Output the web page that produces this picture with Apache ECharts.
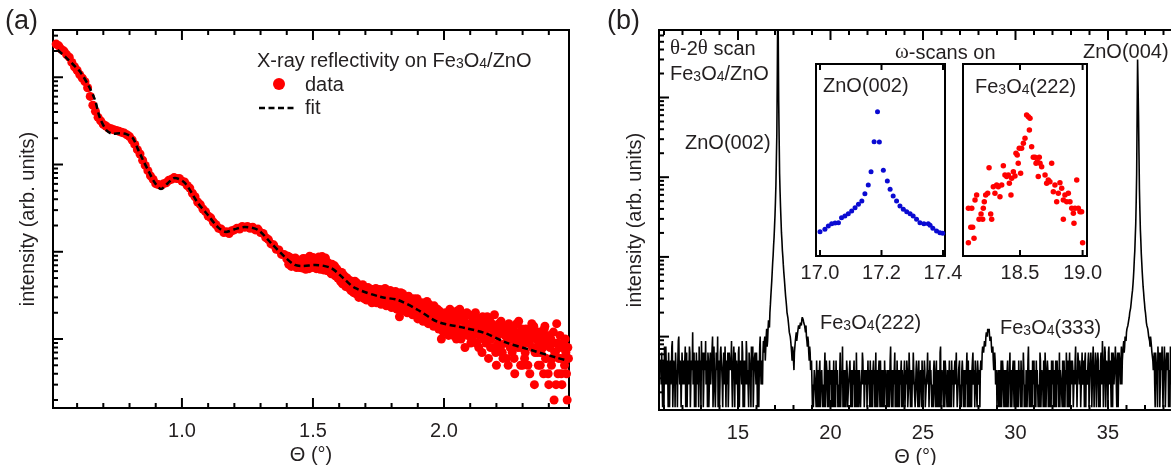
<!DOCTYPE html>
<html>
<head>
<meta charset="utf-8">
<script src="https://cdn.jsdelivr.net/npm/echarts@6/dist/echarts.min.js"></script>
<style>html,body{margin:0;padding:0;background:#fff}#c{width:1171px;height:465px}</style>
</head>
<body>
<div id="c"></div>
<script>
// ---------- (a) X-ray reflectivity ----------
const xrrLowStart = 0.52, xrrLowStep = 0.01;
const xrrLow = [2399,2291,2089,1995,1820,1698,1479,1318,1202,1072,977,891,759,603,479,407,347,316,288,276,
262,257,250,245,240,234,229,219,209,191,170,148,132,112,97.7,85.1,74.1,67.6,60.3,58.9,
57.5,60.3,61.7,66.1,67.6,70.8,69.2,69.2,64.6,63.1,57.5,53.7,46.8,42.7,37.2,34.7,30.9,28.8,25.7,24.5,
21.9,20.4,18.6,18.2,16.6,17.0,16.2,17.4,17.8,18.6,18.2,19.5,19.1,19.5,18.6,19.1,17.8,18.2,16.6,16.2,
14.5,13.8,12.3,12.0,10.7,10.5,9.33,9.33,8.32];
const xrrHighStart = 1.405, xrrHighStep = 0.005;
const xrrHigh = [8.9,7.6,8.4,7.3,8.1,6.9,7.8,7.0,7.6,6.6,
7.9,6.5,7.4,8.3,6.8,7.7,6.4,8.1,7.2,8.6,
6.7,7.5,8.4,6.5,7.9,6.9,8.8,6.2,7.3,6.6,
7.6,6.0,7.0,5.6,6.8,6.1,5.3,6.4,5.0,5.9,
4.6,5.8,4.5,5.2,4.0,5.0,3.9,4.7,3.6,4.4,
3.4,4.6,3.3,4.1,3.0,3.9,3.2,4.2,2.9,3.6,
2.8,3.9,3.1,3.7,2.6,3.4,2.9,3.8,2.7,3.3,
3.7,2.5,3.2,2.8,3.8,2.4,3.3,2.7,3.6,2.3,
3.1,2.6,3.5,2.2,2.9,1.8,3.4,2.4,3.0,2.1,
2.8,2.0,3.1,2.3,2.6,1.9,2.9,2.1,2.5,1.7,
2.4,1.8,2.6,1.6,2.2,1.9,2.7,1.5,2.1,1.7,
2.3,1.4,1.9,1.6,2.2,1.3,1.8,1.0,1.7,1.4,
2.0,1.3,1.6,1.2,1.9,1.5,1.1,1.7,1.3,2.1,
1.2,2.2,1.0,1.8,1.3,0.8,1.5,1.1,1.9,1.4,
1.0,1.6,1.2,2.0,0.9,1.4,1.1,1.7,0.7,1.3,
1.5,0.9,1.8,0.6,1.6,1.0,1.3,0.8,1.4,0.5,
1.1,1.5,0.8,1.2,0.6,1.3,0.9,1.4,0.5,1.0,
1.2,0.7,1.3,0.4,0.9,1.1,1.6,1.2,0.8,0.5,
1.1,0.7,1.2,0.5,0.9,1.0,1.5,1.1,0.3,0.8,
1.0,0.5,0.9,0.7,1.1,0.4,1.4,0.6,1.0,0.3,
0.8,0.5,0.9,0.2,0.7,1.5,0.4,0.8,0.6,0.3,
0.9,0.5,0.7,0.2,0.6];
const xrrHighBStart = 1.4075, xrrHighBStep = 0.005;
const xrrHighB = [7.2,8.6,6.8,8.0,7.1,8.5,6.6,7.9,6.9,7.7,
6.9,8.4,7.0,6.3,8.2,7.1,8.9,6.6,7.8,6.7,
8.1,6.4,7.2,8.7,6.3,8.0,6.8,7.7,8.5,6.1,
6.5,7.3,5.8,7.2,6.0,6.9,5.7,6.2,5.4,5.1,
5.5,4.3,5.4,4.2,4.9,4.5,4.4,3.8,4.6,3.8,
4.3,3.7,4.4,3.5,4.0,3.3,3.8,3.5,3.4,3.0,
3.6,3.0,3.5,2.9,3.7,3.1,3.3,2.6,3.5,3.0,
2.9,3.5,2.6,3.6,2.9,3.4,2.6,3.5,2.8,3.2,
2.4,3.3,2.8,3.2,2.5,3.1,2.2,3.3,2.6,2.9,
2.4,3.0,2.2,2.8,2.0,2.7,2.4,2.2,2.9,2.3,
2.0,2.5,2.1,2.4,1.7,2.3,1.8,2.5,1.6,2.2,
1.8,2.4,1.5,2.0,1.7,2.1,1.4,1.9,1.2,1.8,
1.5,1.8,1.1,2.2,1.4,1.7,1.3,1.9,1.0,1.6,
1.7,1.3,1.9,1.1,1.6,1.4,2.0,1.2,1.5,0.9,
1.4,1.1,1.9,1.3,1.5,0.8,1.6,1.2,1.8,1.0,
1.2,1.7,1.0,1.4,0.8,1.5,1.1,1.9,0.7,1.3,
0.9,1.3,1.6,0.7,1.4,1.1,0.6,1.2,1.5,0.8,
1.0,1.4,0.6,1.1,1.5,0.8,1.0,0.5,1.3,0.9,
0.6,1.3,0.9,1.0,0.4,1.2,0.8,1.4,0.7,1.0,
0.7,1.2,0.5,1.0,0.8,1.3,0.6,0.9,0.4,1.1,
1.0,0.6,1.2,0.7,0.3,0.9,0.6,1.1,0.4,0.8,
0.6,1.0,0.4,0.8,0.5];
const fitTheta = [0.526,0.560,0.585,0.611,0.642,0.668,0.687,0.713,0.737,0.764,0.790,0.813,0.832,0.850,0.870,0.897,0.920,0.947,0.973,1.011,
1.061,1.099,1.137,1.168,1.206,1.240,1.290,1.340,1.393,1.431,1.462,1.508,1.569,1.615,1.660,1.760,1.824,1.901,1.977,2.080,
2.156,2.233,2.332,2.435,2.470];
const fitIntensity = [2061,1656,1400,1161,818,551,342,245,225,228,222,200,150,115,87,61.5,52.5,61.5,70.2,61.5,
36.3,26.4,19.2,16.9,18.3,19.2,17.8,12.6,8.7,7.06,6.87,7.06,6.52,5.01,3.85,3.03,2.80,2.15,1.57,1.34,
1.17,0.92,0.748,0.605,0.57];
const aTickMajorX = [1.0, 1.5, 2.0];
const aTickMinorX = [0.6,0.7,0.8,0.9,1.1,1.2,1.3,1.4,1.6,1.7,1.8,1.9,2.1,2.2,2.3,2.4];
const aTickMajorY = [1, 10, 100, 1000];
const aTickMinorY = [0.2,0.3,0.4,0.5,0.6,0.7,0.8,0.9,2,3,4,5,6,7,8,9,20,30,40,50,60,70,80,90,200,300,400,500,600,700,800,900,2000,3000];
const aLabelsX = [1.0, 1.5, 2.0];

// ---------- (b) theta-2theta scan: points at 10.800 + i*0.05 ----------
const xrdStart = 10.80, xrdStep = 0.05;
const xrdNoiseLow = [5,2.5,6.3,3.8,1.3,5,7.5,2.5,3.8,6.3,
1.3,5,3.8,8.8,2.5,5,1.3,6.3,3.8,5,
10,2.5,3.8,1.3,6.3,5,2.5,7.5,3.8,1.3,
5,3.8,6.3,2.5,5,11.3,3.8,1.3,5,6.3,
2.5,3.8,7.5,5,1.3,3.8,6.3,2.5,5,8.8,
3.8,1.3,5,2.5,6.3,3.8,5,1.3,7.5,3.8,
2.5,5,10,3.8,1.3,6.3,5,2.5,3.8,5,
7.5,1.3,3.8,6.3,2.5,5,3.8,8.8,1.3,5,
3.8,6.3,2.5,5,1.3,7.5,3.8,5,2.5,6.3,
3.8,1.3,5,8.8,2.5,3.8,6.3,5,1.3,3.8,
7.5,2.5,5,3.8,6.3,1.3,5,3.8,10,2.5,
5,6.3];
const zno002Peak = [6.3,10,5,12.5,8.8,16,13,25,40,65,105,175,330,800,3500,150000,9000,1100,420,200,
120,80,55,38,28,20,17,13,11.3,8.8,6.3,7.5,5,6.3];
const fe222Peak = [8.8,11.3,10,12.5,13.8,12.5,15,16.3,17.5,15,13.8,11.3,10,7.5,8.8,5,6.3,3.8,2.5];
const xrdNoiseMid = [2.5,1.3,3.8,2.5,5,1.3,2.5,3.8,1.3,2.5,
3.8,2.5,1.3,6.3,2.5,3.8,1.3,2.5,5,2.5,
1.3,3.8,2.5,1.3,3.8,5,2.5,1.3,2.5,3.8,
1.3,2.5,7.5,2.5,1.3,3.8,2.5,3.8,1.3,2.5,
5,1.3,2.5,3.8,2.5,1.3,3.8,6.3,1.3,2.5,
3.8,2.5,1.3,2.5,5,3.8,1.3,2.5,3.8,1.3,
2.5,3.8,5,1.3,2.5,3.8,2.5,1.3,6.3,2.5,
1.3,3.8,2.5,5,1.3,2.5,3.8,1.3,2.5,3.8,
2.5,1.3,3.8,2.5,7.5,1.3,2.5,3.8,2.5,1.3,
3.8,5,1.3,2.5,3.8,2.5,1.3,3.8,2.5,5,
1.3,2.5,3.8,1.3,6.3,2.5,3.8,1.3,2.5,3.8,
2.5,1.3,5,2.5,3.8,1.3,2.5,3.8,5,1.3,
2.5,3.8,1.3,2.5,6.3,3.8,1.3,2.5,3.8,2.5,
1.3,5,2.5,3.8,1.3,2.5,3.8,1.3,7.5,2.5,
3.8,1.3,2.5,5,2.5,1.3,3.8,2.5,1.3,3.8,
5,2.5,1.3,3.8,2.5,6.3,1.3,2.5,3.8,1.3,
2.5,3.8,5,1.3,2.5,3.8,2.5,1.3,5,3.8,
1.3,2.5,3.8,6.3,2.5,1.3,3.8,2.5,5,2.5,
3.8];
const fe333Peak = [3.8,5,6.3,7.5,6.3,8.8,10,11.3,12.5,11.3,10,8.8,7.5,6.3,5,3.8,5,2.5,1.3];
const xrdNoiseHigh = [2.5,1.3,3.8,2.5,1.3,5,2.5,3.8,1.3,2.5,
3.8,1.3,2.5,6.3,2.5,1.3,3.8,2.5,5,1.3,
2.5,3.8,1.3,2.5,3.8,5,1.3,2.5,3.8,2.5,
1.3,3.8,2.5,7.5,1.3,2.5,3.8,1.3,2.5,5,
3.8,1.3,2.5,3.8,2.5,1.3,5,2.5,3.8,1.3,
2.5,6.3,1.3,2.5,3.8,2.5,1.3,3.8,5,2.5,
1.3,3.8,2.5,1.3,5,3.8,2.5,1.3,3.8,2.5,
5,1.3,2.5,3.8,6.3,1.3,2.5,3.8,1.3,5,
2.5,3.8,1.3,2.5,7.5,3.8,1.3,5,2.5,3.8,
1.3,6.3,2.5,3.8,5,1.3,3.8,2.5,6.3,1.3,
5,3.8,2.5,7.5,1.3,3.8,5,2.5,6.3,1.3,
3.8,5,2.5,8.8,1.3,3.8,6.3,2.5,5,1.3,
7.5,3.8,2.5,6.3,1.3,5,3.8,7.5,2.5,5,
1.3,6.3,3.8,5,2.5];
const zno004Peak = [6.3,8.8,7.5,10,11.3,12.5,15,17.5,21,26,34,45,70,120,260,1100,30000,6000,700,220,
110,65,42,30,22,17.5,13.8,12.5,10,8.8,10,7.5,6.3];
const xrdNoiseEnd = [3.8,6.3,1.3,5,2.5,7.5,3.8,1.3,6.3,5,2.5,3.8,7.5,1.3,5,3.8,6.3,2.5,1.3,5,3.8,6.3];

// ---------- (b) theta-2theta scan: points at 10.825 + i*0.05 ----------
const xrdStartB = 10.825;
const xrdNoiseLowB = [3.8,6.3,1.3,5,7.5,2.5,3.8,5,1.3,6.3,
3.8,2.5,7.5,1.3,5,3.8,6.3,2.5,1.3,8.8,
3.8,5,1.3,6.3,2.5,3.8,5,1.3,6.3,3.8,
2.5,7.5,1.3,5,3.8,2.5,6.3,5,1.3,3.8,
5,1.3,3.8,2.5,8.8,5,1.3,6.3,3.8,2.5,
5,6.3,1.3,3.8,2.5,5,10,2.5,3.8,1.3,
6.3,3.8,1.3,5,2.5,7.5,3.8,1.3,6.3,2.5,
3.8,5,2.5,1.3,6.3,3.8,5,2.5,3.8,7.5,
1.3,3.8,5,2.5,6.3,1.3,5,3.8,8.8,1.3,
5,3.8,2.5,6.3,3.8,1.3,5,2.5,7.5,3.8,
1.3,5,6.3,2.5,3.8,5,1.3,7.5,3.8,5,
2.5,8.8];
const zno002PeakB = [8.8,5,10,7.5,12.5,16,20,32,50,85,140,240,500,1700,20000,60000,3000,650,290,160,
100,65,46,32,24,19,15,11.3,10,7.5,5,6.3,3.8,7.5];
const fe222PeakB = [10,8.8,11.3,13.8,12.5,15,13.8,17.5,16.3,15,12.5,13.8,8.8,10,6.3,7.5,3.8,5,1.3];
const xrdNoiseMidB = [1.3,3.8,2.5,1.3,2.5,3.8,1.3,5,2.5,3.8,
1.3,2.5,3.8,1.3,5,2.5,3.8,1.3,2.5,3.8,
2.5,1.3,5,2.5,1.3,2.5,3.8,2.5,1.3,6.3,
2.5,3.8,1.3,3.8,2.5,1.3,5,1.3,2.5,3.8,
2.5,3.8,1.3,2.5,5,3.8,1.3,2.5,3.8,1.3,
2.5,1.3,3.8,6.3,2.5,1.3,3.8,2.5,1.3,5,
3.8,1.3,2.5,3.8,1.3,5,3.8,2.5,1.3,3.8,
2.5,5,1.3,2.5,3.8,1.3,2.5,5,3.8,1.3,
3.8,2.5,1.3,5,2.5,3.8,1.3,2.5,6.3,2.5,
1.3,2.5,3.8,1.3,2.5,5,3.8,1.3,2.5,1.3,
3.8,5,1.3,2.5,3.8,1.3,2.5,3.8,6.3,2.5,
1.3,3.8,2.5,1.3,5,2.5,3.8,1.3,2.5,3.8,
5,1.3,2.5,3.8,2.5,1.3,5,3.8,1.3,2.5,
3.8,2.5,1.3,5,3.8,1.3,2.5,6.3,1.3,3.8,
2.5,5,1.3,3.8,2.5,3.8,1.3,5,2.5,1.3,
2.5,3.8,1.3,5,3.8,2.5,1.3,3.8,5,2.5,
1.3,5,2.5,3.8,1.3,2.5,6.3,3.8,1.3,2.5,
3.8,1.3,5,2.5,3.8,5,2.5,1.3,3.8,2.5,
1.3];
const fe333PeakB = [5,3.8,7.5,6.3,8.8,7.5,11.3,10,12.5,12.5,8.8,10,6.3,7.5,3.8,6.3,2.5,3.8,2.5];
const xrdNoiseHighB = [3.8,2.5,1.3,5,2.5,3.8,1.3,2.5,3.8,1.3,
5,2.5,3.8,1.3,3.8,2.5,5,1.3,2.5,3.8,
1.3,2.5,5,3.8,1.3,2.5,3.8,6.3,1.3,2.5,
3.8,1.3,5,2.5,3.8,1.3,2.5,5,3.8,1.3,
2.5,5,3.8,1.3,2.5,6.3,1.3,3.8,2.5,5,
1.3,3.8,2.5,5,1.3,3.8,2.5,1.3,3.8,5,
2.5,1.3,5,3.8,2.5,1.3,6.3,3.8,2.5,1.3,
3.8,5,1.3,2.5,3.8,5,1.3,6.3,2.5,3.8,
5,1.3,3.8,5,2.5,1.3,6.3,3.8,5,1.3,
3.8,2.5,5,1.3,6.3,3.8,2.5,5,1.3,3.8,
6.3,1.3,5,3.8,2.5,6.3,1.3,3.8,5,2.5,
1.3,6.3,3.8,5,2.5,7.5,1.3,5,3.8,6.3,
2.5,5,1.3,3.8,6.3,2.5,5,3.8,1.3,6.3,
3.8,5,2.5,7.5,5];
const zno004PeakB = [7.5,6.3,10,8.8,12.5,13.8,16.3,20,23,30,38,55,95,180,500,6000,14000,2000,380,160,
85,52,36,26,20,15,13.8,11.3,10,7.5,8.8,6.3,5];
const xrdNoiseEndB = [5,2.5,6.3,3.8,1.3,5,6.3,2.5,3.8,7.5,1.3,5,3.8,2.5,6.3,5,1.3,3.8,7.5,2.5,5];

const bTickMajorX = [15, 20, 25, 30, 35];
const bTickMinorX = [11,12,13,14,16,17,18,19,21,22,23,24,26,27,28,29,31,32,33,34,36,37,38];
const bTickMajorY = [10, 100, 1000, 10000];
const bTickMinorY = [2,3,4,5,6,7,8,9,20,30,40,50,60,70,80,90,200,300,400,500,600,700,800,900,
2000,3000,4000,5000,6000,7000,8000,9000,20000,30000,40000,50000,60000];
const bLabelsX = [15, 20, 25, 30, 35];

// ---------- insets: omega scans ----------
const znoOmegaTheta = [17.000,17.016,17.027,17.038,17.049,17.060,17.070,17.081,17.092,17.103,17.114,17.125,17.136,17.146,17.157,17.166,17.176,17.187,17.193,
17.206,17.219,17.228,17.238,17.249,17.260,17.271,17.282,17.293,17.303,17.314,17.325,17.338,17.352,17.358,17.367,17.379,17.390,17.399];
const znoOmegaInt = [2.40,2.61,2.94,3.20,3.28,3.31,3.97,4.22,4.58,5.05,5.69,6.42,7.23,9.41,12.9,20.8,61.1,180,60.4,
21.8,14.9,11.0,8.66,7.23,6.04,5.36,4.92,4.58,4.22,3.74,3.31,3.20,3.20,3.02,2.71,2.46,2.31,2.26];
const feOmegaTheta = [18.088,18.088,18.107,18.115,18.122,18.133,18.141,18.154,18.173,18.189,18.202,18.207,18.215,18.226,18.242,18.253,18.266,18.274,18.287,18.300,
18.314,18.327,18.340,18.354,18.367,18.380,18.394,18.407,18.415,18.428,18.434,18.447,18.460,18.468,18.478,18.486,18.494,18.505,18.513,18.527,
18.540,18.553,18.567,18.575,18.580,18.593,18.606,18.620,18.628,18.638,18.646,18.654,18.660,18.673,18.700,18.713,18.726,18.739,18.753,18.766,
18.779,18.793,18.806,18.819,18.833,18.846,18.846,18.859,18.873,18.886,18.899,18.913,18.926,18.931,18.939,18.953,18.966,18.979,18.992,19.000];
const feOmegaInt = [1.61,5.56,2.81,5.56,2.81,1.89,7.50,8.97,3.74,4.53,3.74,5.56,7.06,8.97,9.53,24.0,4.53,3.74,12.1,9.53,
12.9,12.1,8.45,12.9,25.8,18.4,17.4,18.4,13.7,8.97,16.4,20.8,17.8,40.2,37.8,28.1,48.2,19.6,48.2,57.7,
69.0,160,150,93,142,51,34.8,34.8,28.1,29.8,17.4,34.8,28.1,24.9,18.4,13.7,15.4,14.5,28.1,10.1,
12.9,7.06,9.53,14.0,11.4,7.50,3.74,8.97,7.06,9.53,7.06,5.56,4.64,3.24,5.56,15.4,5.56,4.93,4.93,1.61];
const in1LabelsX = [17.0, 17.2, 17.4];
const in2LabelsX = [18.5, 19.0];

// ---------- build ----------
const FONT = '"Liberation Sans", Arial, Helvetica, sans-serif';
const SERIF = '"Liberation Serif", "Times New Roman", serif';
const TXT = '#231f20';
const FS = 20;

const xrrData = xrrLow.map((v, i) => [+(xrrLowStart + i * xrrLowStep).toFixed(4), v])
  .concat(xrrHigh.map((v, i) => [+(xrrHighStart + i * xrrHighStep).toFixed(4), v]))
  .concat(xrrHighB.map((v, i) => [+(xrrHighBStart + i * xrrHighBStep).toFixed(4), v]));
const fitData = fitTheta.map((t, i) => [t, fitIntensity[i]]);
const xrdA = [].concat(xrdNoiseLow, zno002Peak, fe222Peak, xrdNoiseMid, fe333Peak, xrdNoiseHigh, zno004Peak, xrdNoiseEnd);
const xrdB = [].concat(xrdNoiseLowB, zno002PeakB, fe222PeakB, xrdNoiseMidB, fe333PeakB, xrdNoiseHighB, zno004PeakB, xrdNoiseEndB);
const xrdData = [];
xrdA.forEach((v, i) => {
  xrdData.push([+(xrdStart + i * xrdStep).toFixed(3), v]);
  if (i < xrdB.length) xrdData.push([+(xrdStartB + i * xrdStep).toFixed(3), xrdB[i]]);
});
const znoOmega = znoOmegaTheta.map((t, i) => [t, znoOmegaInt[i]]);
const feOmega = feOmegaTheta.map((t, i) => [t, feOmegaInt[i]]);

const AX = {
  a: {xmin: 0.508, xmax: 2.477, ymin: 0.162, ymax: 3480},
  b: {xmin: 10.73, xmax: 38.46, ymin: 1.2, ymax: 70300},
  i1: {xmin: 16.987, xmax: 17.4065, ymin: 1, ymax: 1000},
  i2: {xmin: 18.045, xmax: 19.035, ymin: 1, ymax: 1000}
};

function xTickRender(params, api) {
  const cs = params.coordSys;
  const p = api.coord([api.value(0), api.value(1)]);
  const len = api.value(2);
  const st = {stroke: '#000', lineWidth: 2};
  const bottom = cs.y + cs.height;
  return {type: 'group', children: [
    {type: 'line', shape: {x1: p[0], y1: bottom, x2: p[0], y2: bottom - len}, style: st},
    {type: 'line', shape: {x1: p[0], y1: cs.y, x2: p[0], y2: cs.y + len}, style: st}
  ]};
}
function yTickRender(params, api) {
  const cs = params.coordSys;
  const p = api.coord([api.value(0), api.value(1)]);
  const len = api.value(2);
  return {type: 'line', shape: {x1: cs.x, y1: p[1], x2: cs.x + len, y2: p[1]}, style: {stroke: '#000', lineWidth: 2}};
}
function tickSeries(idx, kind, values, refOther, len) {
  return {
    type: 'custom', coordinateSystem: 'cartesian2d', xAxisIndex: idx, yAxisIndex: idx,
    renderItem: kind === 'x' ? xTickRender : yTickRender,
    data: values.map(v => kind === 'x' ? [v, refOther, len] : [refOther, v, len]),
    encode: {x: 0, y: 1}, silent: true, z: 6, animation: false
  };
}

function xAxisOf(idx, r, labels, fmt, margin, name) {
  const o = {
    type: 'value', gridIndex: idx, min: r.xmin, max: r.xmax,
    axisLine: {show: false}, axisTick: {show: false}, splitLine: {show: false},
    axisLabel: {customValues: labels, formatter: fmt, fontSize: FS, color: TXT, fontFamily: FONT, margin: margin}
  };
  if (name) {
    o.name = name; o.nameLocation = 'middle'; o.nameGap = 31;
    o.nameTextStyle = {fontSize: FS, color: TXT, fontFamily: FONT};
  }
  return o;
}
function yAxisOf(idx, r, name, gap) {
  const o = {
    type: 'log', logBase: 10, gridIndex: idx, min: r.ymin, max: r.ymax,
    axisLine: {show: false}, axisTick: {show: false}, splitLine: {show: false}, axisLabel: {show: false}
  };
  if (name) {
    o.name = name; o.nameLocation = 'middle'; o.nameGap = gap;
    o.nameTextStyle = {fontSize: FS, color: TXT, fontFamily: FONT};
  }
  return o;
}

const richBase = {
  n: {fontSize: FS, fontFamily: FONT, fill: TXT, lineHeight: 22, verticalAlign: 'bottom'},
  s: {fontSize: 14, fontFamily: FONT, fill: TXT, lineHeight: 6, verticalAlign: 'bottom'},
  g: {fontSize: FS + 1, fontFamily: SERIF, fill: TXT, lineHeight: 22, verticalAlign: 'bottom'}
};
function feox(suffix) { return '{n|Fe}{s|3}{n|O}{s|4}{n|' + suffix + '}'; }
function txt(x, y, text, opts) {
  opts = opts || {};
  return {type: 'text', x: x, y: y, z: 20, silent: true,
    style: Object.assign({text: text, fontSize: FS, fontFamily: FONT, fill: TXT, align: 'left', verticalAlign: 'middle', rich: richBase}, opts)};
}

const chart = echarts.init(document.getElementById('c'), null, {renderer: 'canvas'});
chart.setOption({
  animation: false,
  backgroundColor: '#fff',
  textStyle: {fontFamily: FONT},
  grid: [
    {left: 53, top: 30, width: 516, height: 378, show: true, borderColor: '#000', borderWidth: 2, backgroundColor: 'transparent', containLabel: false, outerBoundsMode: 'none'},
    {left: 659, top: 30, width: 513, height: 380, show: true, borderColor: '#000', borderWidth: 2, backgroundColor: 'transparent', containLabel: false, outerBoundsMode: 'none'},
    {left: 816, top: 64, width: 129, height: 192, show: true, borderColor: '#000', borderWidth: 2, backgroundColor: '#fff', containLabel: false, outerBoundsMode: 'none'},
    {left: 963, top: 64, width: 124, height: 192, show: true, borderColor: '#000', borderWidth: 2, backgroundColor: '#fff', containLabel: false, outerBoundsMode: 'none'}
  ],
  xAxis: [
    xAxisOf(0, AX.a, aLabelsX, v => v.toFixed(1), 13, 'Θ (°)'),
    xAxisOf(1, AX.b, bLabelsX, v => String(v), 13, 'Θ (°)'),
    xAxisOf(2, AX.i1, in1LabelsX, v => v.toFixed(1), 7, null),
    xAxisOf(3, AX.i2, in2LabelsX, v => v.toFixed(1), 7, null)
  ],
  yAxis: [
    yAxisOf(0, AX.a, 'intensity (arb. units)', 15),
    yAxisOf(1, AX.b, 'intensity (arb. units)', 14),
    yAxisOf(2, AX.i1, null),
    yAxisOf(3, AX.i2, null)
  ],
  series: [
    {type: 'scatter', name: 'data', xAxisIndex: 0, yAxisIndex: 0, data: xrrData, symbol: 'circle', symbolSize: 9,
      itemStyle: {color: '#ff0000', opacity: 1}, z: 2, silent: true, large: false},
    {type: 'line', name: 'fit', xAxisIndex: 0, yAxisIndex: 0, data: fitData, symbol: 'none', smooth: 0.3,
      lineStyle: {color: '#000', width: 2.5, type: [6, 3.5]}, z: 3, silent: true},
    {type: 'line', name: 'theta-2theta', xAxisIndex: 1, yAxisIndex: 1, data: xrdData, symbol: 'none', sampling: null,
      lineStyle: {color: '#000', width: 1.6}, z: 2, silent: true},
    {type: 'scatter', xAxisIndex: 2, yAxisIndex: 2, data: znoOmega, symbolSize: 5, itemStyle: {color: '#0a0ad2', opacity: 1}, silent: true},
    {type: 'scatter', xAxisIndex: 3, yAxisIndex: 3, data: feOmega, symbolSize: 5.5, itemStyle: {color: '#ff0000', opacity: 1}, silent: true},
    tickSeries(0, 'x', aTickMajorX, 1, 10),
    tickSeries(0, 'x', aTickMinorX, 1, 5),
    tickSeries(0, 'y', aTickMajorY, AX.a.xmin, 10),
    tickSeries(0, 'y', aTickMinorY, AX.a.xmin, 5),
    tickSeries(1, 'x', bTickMajorX, 10, 10),
    tickSeries(1, 'x', bTickMinorX, 10, 5),
    tickSeries(1, 'y', bTickMajorY, AX.b.xmin, 10),
    tickSeries(1, 'y', bTickMinorY, AX.b.xmin, 5),
    tickSeries(2, 'x', in1LabelsX, 10, 6),
    tickSeries(3, 'x', in2LabelsX, 10, 6)
  ],
  graphic: {elements: [
    txt(5, 22, '(a)', {fontSize: 27, rich: null}),
    txt(607, 22, '(b)', {fontSize: 27, rich: null}),
    txt(257, 60, '{n|X-ray reflectivity on }' + feox('/ZnO')),
    {type: 'circle', z: 20, silent: true, shape: {cx: 279, cy: 84, r: 6}, style: {fill: '#ff0000'}},
    txt(305, 85, 'data'),
    {type: 'line', z: 20, silent: true, shape: {x1: 259, y1: 108, x2: 294, y2: 108}, style: {stroke: '#000', lineWidth: 2.5, lineDash: [6, 3.5]}},
    txt(305, 108, 'fit'),
    txt(670, 48, '{g|θ}{n|-2}{g|θ}{n| scan}'),
    txt(670, 73, feox('/ZnO')),
    txt(685, 143, 'ZnO(002)'),
    txt(895, 52, '{g|ω}{n|-scans on}'),
    txt(1083, 52, 'ZnO(004)'),
    txt(823, 86, 'ZnO(002)'),
    txt(975, 86, feox('(222)')),
    txt(820, 322, feox('(222)')),
    txt(1000, 327, feox('(333)'))
  ]}
});
</script>
</body>
</html>
